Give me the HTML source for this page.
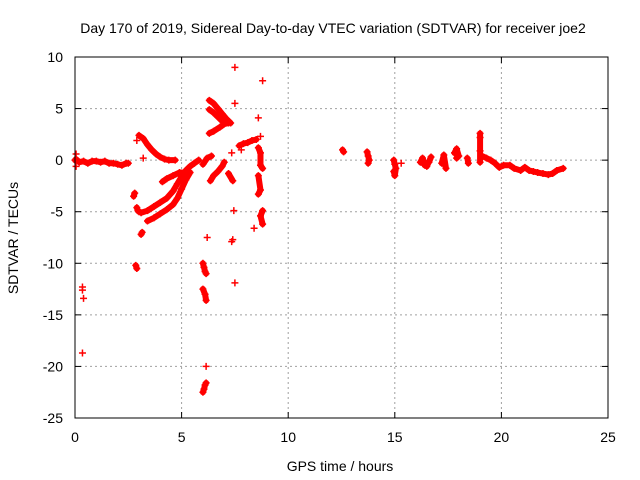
<!DOCTYPE html>
<html><head><meta charset="utf-8"><style>
body{margin:0;background:#fff;}
svg{display:block;font-family:"Liberation Sans",sans-serif;}
</style></head><body>
<svg id="chart" width="640" height="480" viewBox="0 0 640 480" xmlns="http://www.w3.org/2000/svg">
<rect width="640" height="480" fill="#fff"/>
<text x="333" y="33" font-size="14" text-anchor="middle">Day 170 of 2019, Sidereal Day-to-day VTEC variation (SDTVAR) for receiver joe2</text>
<g id="grid"></g>
<g id="ticks"></g>
<g id="tracks"></g>
<g id="pts"></g>
<rect x="75" y="57" width="533" height="361" fill="none" stroke="#000" stroke-width="1"/>
<text x="340" y="471" font-size="14" text-anchor="middle">GPS time / hours</text>
<text x="0" y="0" font-size="14" text-anchor="middle" transform="translate(18,238) rotate(-90)">SDTVAR / TECUs</text>
</svg>
<script>
const xTicks=[0,5,10,15,20,25];
const yTicks=[10,5,0,-5,-10,-15,-20,-25];
// track id 0 = isolated point; consecutive points with same non-zero id form a dense track
const xHours=[
0,0.05,0.2,0.4,0.6,0.8,1,1.2,1.4,1.6,1.8,2,2.2,2.4,2.5,
0.05,0.05,
0.35,0.35,0.4,0.35,
2.8,2.75,2.9,2.95,3.0,
2.85,2.9,3.1,3.15,
3.0,3.2,3.4,3.6,3.8,4.0,4.2,4.4,4.7,
3.2,2.9,
3.1,3.4,3.7,4.0,4.3,4.6,4.8,5.0,5.2,5.4,5.6,5.8,
3.4,3.7,4.0,4.3,4.6,4.8,5.0,5.2,5.4,
4.1,4.3,4.6,4.9,5.2,
6.0,6.05,6.1,6.15,
6.0,6.1,6.15,6.2,6.15,
6.0,6.05,6.1,6.15,
6.3,6.5,6.7,6.9,7.1,7.3,
6.3,6.5,6.7,6.9,
6.3,6.5,6.8,7.0,7.2,
6.0,6.2,6.4,
6.35,6.5,6.7,6.9,7.0,
7.2,7.4,7.45,7.35,7.4,7.5,7.5,7.5,7.35,
7.7,7.9,8.1,8.3,8.5,7.8,
8.8,8.6,8.7,
8.6,8.7,8.7,8.8,
8.6,8.7,8.6,
8.8,8.7,8.8,8.4,
12.55,12.6,
13.7,13.75,13.8,13.75,
14.95,15.0,15.05,15.0,14.95,15.3,
16.2,16.3,16.4,16.6,16.7,16.5,
17.2,17.3,17.4,17.3,
17.8,17.9,18.0,17.9,18.4,18.45,
19.0,19.0,19.0,19.0,
19.1,19.3,19.5,19.7,19.9,20.1,20.4,20.6,20.9,21.1,21.3,21.5,21.7,21.95,22.2,22.4,22.6,22.9];
const yTecu=[
0,0.1,-0.2,-0.1,-0.3,-0.1,-0.1,-0.2,-0.1,-0.3,-0.3,-0.4,-0.5,-0.3,-0.3,
0.6,-0.6,
-12.3,-12.6,-13.4,-18.7,
-3.2,-3.5,-4.6,-4.9,-5.0,
-10.2,-10.5,-7.2,-7.0,
2.4,2.1,1.5,1.0,0.6,0.3,0.1,0.0,0.0,
0.2,1.9,
-5.1,-4.9,-4.5,-4.1,-3.7,-3.0,-2.3,-1.6,-1.0,-0.6,-0.3,0.0,
-5.9,-5.6,-5.2,-4.8,-4.3,-3.7,-2.8,-1.9,-1.2,
-2.1,-1.8,-1.5,-1.2,-1.2,
-10.0,-10.4,-10.8,-11.0,
-12.5,-13.0,-13.6,-7.5,-20.0,
-22.5,-22.2,-21.8,-21.6,
5.8,5.5,5.0,4.5,4.0,3.6,
4.9,4.6,4.2,3.8,
2.6,2.8,3.2,3.5,3.6,
-0.4,0.2,0.4,
-2.0,-1.5,-1.1,-0.6,-0.2,
-1.3,-2.0,-4.9,-7.9,-7.7,9.0,5.5,-11.9,0.7,
1.4,1.6,1.7,1.9,2.0,1.0,
7.7,4.1,2.3,
1.2,0.7,-0.5,-0.8,
-1.5,-2.9,-3.3,
-4.9,-5.4,-6.2,-6.6,
1.0,0.8,
0.8,0.4,0.0,-0.3,
0.0,-0.4,-0.8,-1.5,-1.1,-0.3,
-0.2,0.2,-0.5,-0.2,0.3,-0.6,
-0.3,0.5,-0.8,0.0,
0.7,1.1,0.4,0.2,0.2,-0.3,
2.6,2.2,0.9,-0.2,
0.4,0.2,0.0,-0.3,-0.7,-0.5,-0.5,-0.8,-1.0,-0.7,-1.0,-1.1,-1.2,-1.3,-1.4,-1.3,-1.0,-0.8];
const trackId=[
1,1,1,1,1,1,1,1,1,1,1,1,1,1,1,
0,0,
0,0,0,0,
2,2,3,3,3,
4,4,5,5,
6,6,6,6,6,6,6,6,6,
0,0,
7,7,7,7,7,7,7,7,7,7,7,7,
8,8,8,8,8,8,8,8,8,
9,9,9,9,9,
10,10,10,10,
11,11,11,0,0,
12,12,12,12,
13,13,13,13,13,13,
14,14,14,14,
15,15,15,15,15,
16,16,16,
17,17,17,17,17,
18,18,0,0,0,0,0,0,0,
19,19,19,19,19,0,
0,0,20,
21,21,21,21,
22,22,22,
23,23,23,0,
24,24,
25,25,25,25,
26,26,26,26,26,0,
27,27,27,27,27,27,
28,28,28,28,
29,29,29,29,30,30,
31,31,31,31,
32,32,32,32,32,32,32,32,32,32,32,32,32,32,32,32,32,32];
const X0=75,X1=608,Y0=418,Y1=57;
const sx=h=>X0+(h-0)/(25-0)*(X1-X0);
const sy=v=>Y0-(v+25)/(35)*(Y0-Y1);
const NS='http://www.w3.org/2000/svg';
const grid=document.getElementById('grid'),ticks=document.getElementById('ticks'),pts=document.getElementById('pts'),tracks=document.getElementById('tracks');
function mk(tag,attrs,parent){const e=document.createElementNS(NS,tag);for(const k in attrs)e.setAttribute(k,attrs[k]);parent.appendChild(e);return e;}
xTicks.forEach(t=>{const x=sx(t);
 if(t>0&&t<25){const g=mk('line',{x1:x,x2:x,y1:Y1,y2:Y0,stroke:'#a0a0a0','stroke-dasharray':'2,3'},grid);}
 mk('line',{x1:x,x2:x,y1:Y0,y2:Y0-6,stroke:'#000'},ticks);mk('line',{x1:x,x2:x,y1:Y1,y2:Y1+6,stroke:'#000'},ticks);
 const l=mk('text',{x:x,y:Y0+24,'font-size':14,'text-anchor':'middle'},ticks);l.textContent=t;
 
 });
yTicks.forEach(t=>{const y=sy(t);
 if(t<10&&t>-25){const g=mk('line',{x1:X0,x2:X1,y1:y,y2:y,stroke:'#a0a0a0','stroke-dasharray':'2,3'},grid);}
 mk('line',{x1:X0,x2:X0+6,y1:y,y2:y,stroke:'#000'},ticks);mk('line',{x1:X1,x2:X1-6,y1:y,y2:y,stroke:'#000'},ticks);
 const l=mk('text',{x:X0-12,y:y+5,'font-size':14,'text-anchor':'end'},ticks);l.textContent=t;
 
 });
// dense tracks
let cur=null;
xHours.forEach((h,i)=>{
 const id=trackId[i];
 if(id!==0){
  if(!cur||cur.id!==id){cur={id:id,d:'M'+sx(h)+','+sy(yTecu[i])};cur.el=null;
   const p=mk('path',{fill:'none',stroke:'#ff0000','stroke-width':6,'stroke-linecap':'round','stroke-linejoin':'round'},tracks);
   
   
   cur.el=p;}
  else{cur.d+=' L'+sx(h)+','+sy(yTecu[i]);}
  cur.el.setAttribute('d',cur.d);
 } else cur=null;
});
xHours.forEach((h,i)=>{const x=sx(h),y=sy(yTecu[i]);
 const p=mk('path',{d:`M${x-3.5},${y}H${x+3.5}M${x},${y-3.5}V${y+3.5}`,stroke:'#ff0000','stroke-width':1.5,fill:'none'},pts);
 
 });
</script>
</body></html>
